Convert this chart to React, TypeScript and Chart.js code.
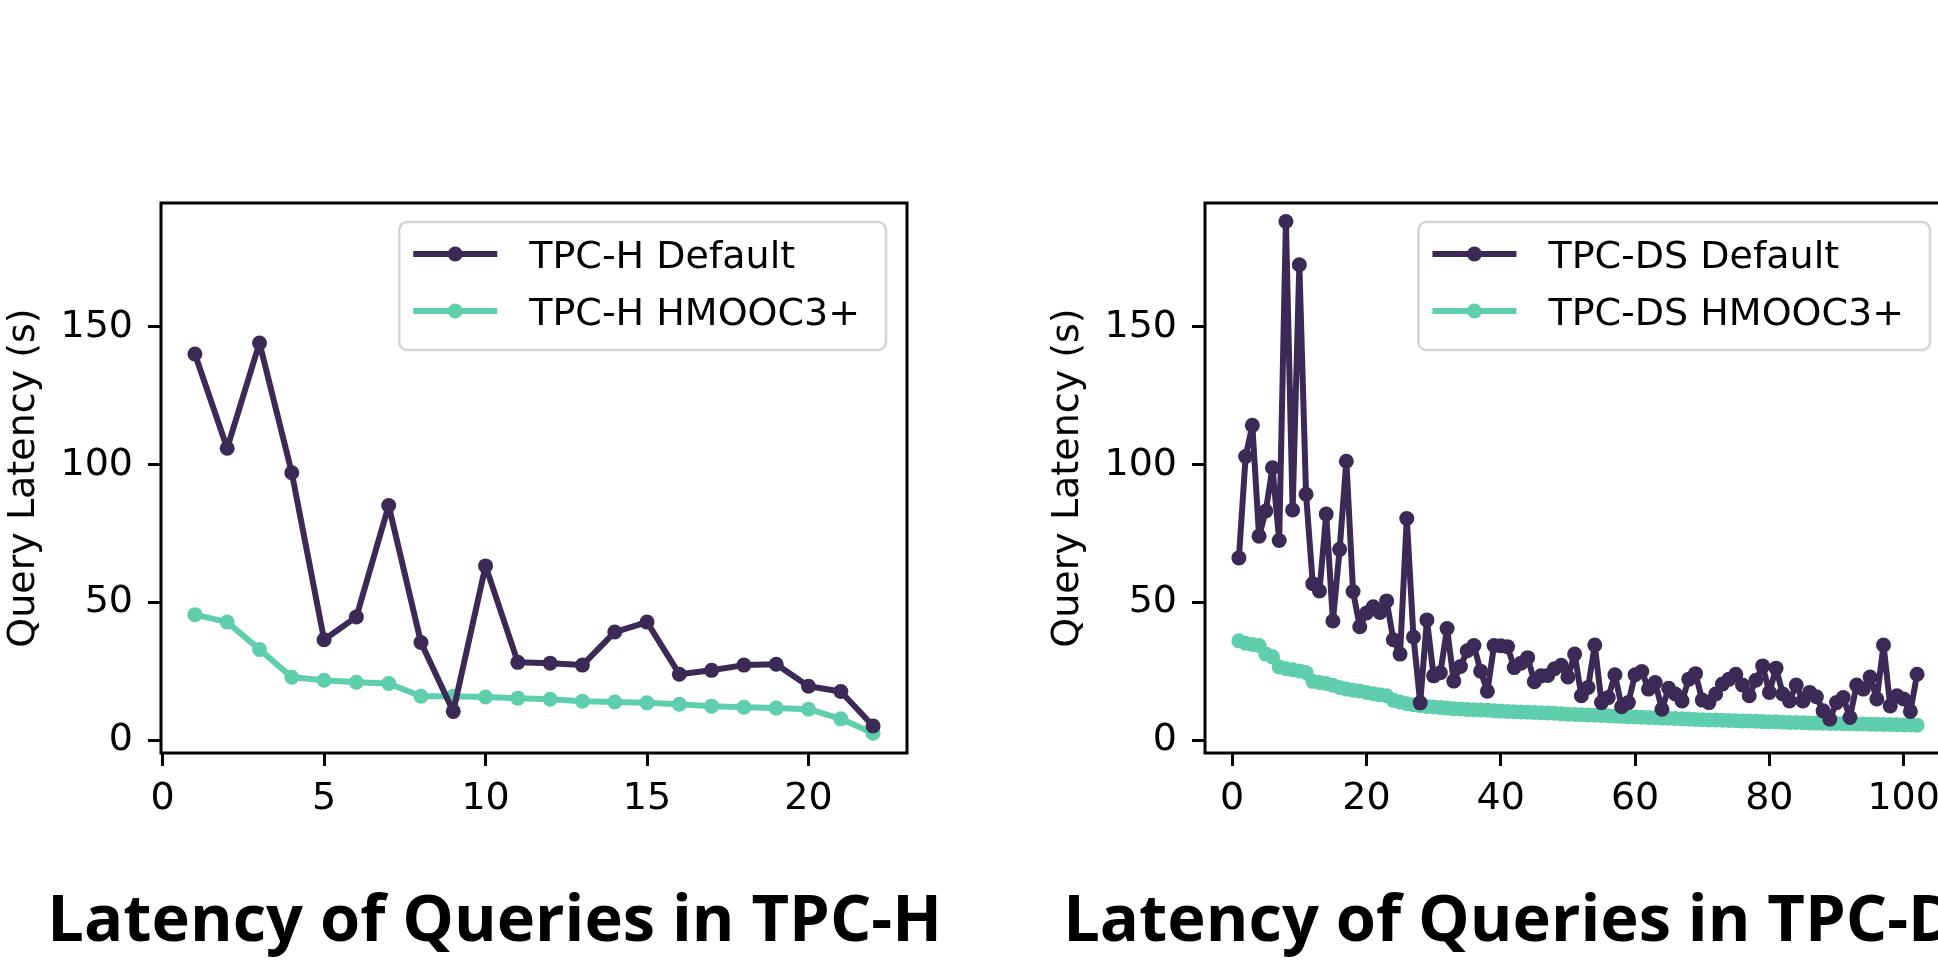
import React, { useEffect, useRef } from 'react';
import { Chart, registerables } from 'chart.js';

Chart.register(...registerables);

// ---------- data ----------
const hQueries = [1, 2, 3, 4, 5, 6, 7, 8, 9, 10, 11, 12, 13, 14, 15, 16, 17, 18, 19, 20, 21, 22];
const hDefault = [140.2, 106.0, 144.2, 97.1, 36.5, 44.8, 85.2, 35.5, 10.5, 63.3, 28.3, 28.0, 27.3, 39.3, 42.9, 24.0, 25.4, 27.3, 27.6, 19.6, 17.7, 5.2];
const hHmooc = [45.6, 42.9, 33.0, 22.9, 21.8, 21.1, 20.6, 16.0, 16.0, 15.7, 15.3, 14.9, 14.2, 13.9, 13.6, 13.1, 12.4, 12.0, 11.7, 11.3, 7.8, 2.6];

const dsQueries = [
  1, 2, 3, 4, 5, 6, 7, 8, 9, 10, 11, 12, 13, 14, 15, 16, 17, 18, 19, 20,
  21, 22, 23, 24, 25, 26, 27, 28, 29, 30, 31, 32, 33, 34, 35, 36, 37, 38, 39, 40,
  41, 42, 43, 44, 45, 46, 47, 48, 49, 50, 51, 52, 53, 54, 55, 56, 57, 58, 59, 60,
  61, 62, 63, 64, 65, 66, 67, 68, 69, 70, 71, 72, 73, 74, 75, 76, 77, 78, 79, 80,
  81, 82, 83, 84, 85, 86, 87, 88, 89, 90, 91, 92, 93, 94, 95, 96, 97, 98, 99, 100,
  101, 102,
];
const dsDefault = [
  66.2, 103.0, 114.3, 74.1, 83.2, 98.9, 72.5, 188.3, 83.6, 172.6,
  89.3, 56.8, 54.2, 82.1, 43.3, 69.3, 101.3, 54.0, 41.2, 46.2,
  48.5, 46.4, 50.6, 36.5, 31.3, 80.5, 37.5, 13.6, 43.7, 23.4,
  24.5, 40.6, 21.5, 26.8, 32.5, 34.4, 25.1, 17.8, 34.4, 34.3,
  34.0, 26.4, 28.0, 30.0, 21.3, 23.4, 23.5, 26.0, 27.2, 23.0,
  31.3, 16.2, 19.2, 34.6, 13.7, 15.5, 23.8, 12.2, 13.7, 23.8,
  25.0, 18.6, 21.0, 11.3, 18.9, 16.8, 14.3, 22.2, 24.2, 14.6,
  13.7, 16.8, 20.4, 22.2, 24.0, 20.1, 16.2, 21.8, 27.0, 17.4,
  26.2, 16.8, 14.3, 20.1, 14.3, 17.4, 15.8, 10.7, 7.7, 13.7,
  15.5, 8.3, 20.1, 18.6, 23.0, 15.0, 34.6, 12.5, 16.2, 15.0,
  10.5, 24.0,
];
const dsHmooc = [
  36.1, 35.2, 34.8, 34.4, 31.3, 30.3, 26.6, 26.0, 25.6, 25.2,
  24.6, 21.4, 21.0, 20.6, 20.0, 19.2, 18.6, 18.2, 17.9, 17.4,
  16.9, 16.5, 16.2, 14.5, 13.9, 13.3, 12.9, 12.6, 12.3, 12.1,
  11.9, 11.7, 11.5, 11.4, 11.2, 11.1, 11.0, 10.9, 10.7, 10.6,
  10.5, 10.4, 10.3, 10.2, 10.1, 10.0, 9.9, 9.8, 9.6, 9.5,
  9.4, 9.3, 9.2, 9.1, 9.0, 8.9, 8.8, 8.7, 8.6, 8.5,
  8.4, 8.3, 8.2, 8.1, 8.0, 7.9, 7.8, 7.7, 7.6, 7.5,
  7.4, 7.35, 7.3, 7.2, 7.1, 7.05, 7.0, 6.9, 6.8, 6.75,
  6.7, 6.6, 6.5, 6.45, 6.4, 6.3, 6.25, 6.2, 6.15, 6.1,
  6.05, 6.0, 5.95, 5.9, 5.85, 5.8, 5.75, 5.7, 5.65, 5.6,
  5.55, 5.5,
];

const hXTicks = [0, 5, 10, 15, 20];
const dsXTicks = [0, 20, 40, 60, 80, 100];
const yTicks = [0, 50, 100, 150];

const hXRange = [-0.05, 23.05];
const dsXRange = [-4.05, 107.05];
const yRange = [-4.6, 195];

const DARK = '#3a2a55';
const TEAL = '#5fceac';
const FONT = "'DejaVu Sans', sans-serif";

// ---------- plugins ----------
const framePlugin = {
  id: 'mplFrame',
  afterDatasetsDraw(chart: any) {
    const { ctx, chartArea: a } = chart;
    ctx.save();
    ctx.strokeStyle = '#000';
    ctx.lineWidth = 3;
    ctx.strokeRect(a.left, a.top, a.right - a.left, a.bottom - a.top);
    ctx.restore();
  },
};

const legendPlugin = {
  id: 'mplLegend',
  afterDraw(chart: any, _args: any, opts: any) {
    const items = opts && opts.items;
    if (!items) return;
    const { ctx, chartArea } = chart;
    ctx.save();
    ctx.font = `38px ${FONT}`;
    const textW = Math.max(...items.map((i: any) => ctx.measureText(i.label).width));
    const w = 130 + textW + 26;
    const h = 128;
    const right = chartArea.right - 21;
    const top = chartArea.top + 19;
    const left = right - w;
    ctx.beginPath();
    ctx.roundRect(left, top, w, h, 8);
    ctx.fillStyle = 'rgba(255,255,255,0.8)';
    ctx.fill();
    ctx.strokeStyle = '#d4d4d4';
    ctx.lineWidth = 2.5;
    ctx.stroke();
    items.forEach((it: any, i: number) => {
      const y = top + 32 + i * 57;
      ctx.strokeStyle = it.color;
      ctx.lineWidth = 6;
      ctx.beginPath();
      ctx.moveTo(left + 14, y);
      ctx.lineTo(left + 98, y);
      ctx.stroke();
      ctx.fillStyle = it.color;
      ctx.beginPath();
      ctx.arc(left + 56, y, 7.5, 0, Math.PI * 2);
      ctx.fill();
      ctx.fillStyle = '#000';
      ctx.textBaseline = 'alphabetic';
      ctx.textAlign = 'left';
      ctx.fillText(it.label, left + 130, y + 14);
    });
    ctx.restore();
  },
};

function makeConfig(
  xs: number[],
  def: number[],
  hm: number[],
  labels: string[],
  xTicks: number[],
  xRange: number[],
) {
  const ds = (vals: number[], label: string, color: string) => ({
    label,
    data: xs.map((x, i) => ({ x, y: vals[i] })),
    borderColor: color,
    backgroundColor: color,
    pointBackgroundColor: color,
    pointBorderColor: color,
    pointBorderWidth: 0,
    pointRadius: 7.5,
    borderWidth: 6,
    borderJoinStyle: 'round',
    borderCapStyle: 'round',
    tension: 0,
    fill: false,
    showLine: true,
  });
  return {
    type: 'line',
    data: {
      datasets: [ds(def, labels[0], DARK), ds(hm, labels[1], TEAL)],
    },
    options: {
      animation: false,
      responsive: false,
      devicePixelRatio: 1,
      events: [],
      layout: { padding: { top: 203, right: 53, bottom: 0, left: 0 } },
      plugins: {
        legend: { display: false },
        tooltip: { enabled: false },
        mplLegend: {
          items: [
            { label: labels[0], color: DARK },
            { label: labels[1], color: TEAL },
          ],
        },
      },
      scales: {
        x: {
          type: 'linear',
          min: xRange[0],
          max: xRange[1],
          afterBuildTicks: (s: any) => {
            s.ticks = xTicks.map((v) => ({ value: v }));
          },
          afterFit: (s: any) => {
            s.height = 211;
          },
          border: { display: false },
          grid: {
            drawOnChartArea: false,
            drawTicks: true,
            tickLength: 13,
            tickWidth: 3,
            tickColor: '#000',
            color: '#000',
          },
          ticks: {
            color: '#000',
            padding: 10,
            maxRotation: 0,
            autoSkip: false,
            font: { family: FONT, size: 38 },
            callback: (v: any) => String(v),
          },
        },
        y: {
          type: 'linear',
          min: yRange[0],
          max: yRange[1],
          afterBuildTicks: (s: any) => {
            s.ticks = yTicks.map((v) => ({ value: v }));
          },
          afterFit: (s: any) => {
            s.width = 161;
          },
          border: { display: false },
          grid: {
            drawOnChartArea: false,
            drawTicks: true,
            tickLength: 13,
            tickWidth: 3,
            tickColor: '#000',
            color: '#000',
          },
          ticks: {
            color: '#000',
            padding: 15,
            autoSkip: false,
            font: { family: FONT, size: 38 },
            callback: (v: any) => String(v),
          },
          title: {
            display: true,
            text: 'Query Latency (s)',
            color: '#000',
            padding: { top: 1, bottom: 0 },
            font: { family: FONT, size: 38 },
          },
        },
      },
    },
    plugins: [framePlugin, legendPlugin],
  };
}

// titles are right-aligned inside a box ending at `right`
const titleStyle = (right: number): React.CSSProperties => ({
  position: 'absolute',
  left: 0,
  width: right,
  textAlign: 'right',
  top: 884,
  fontFamily: "'Open Sans', Lato, sans-serif",
  fontWeight: 700,
  fontSize: 65,
  lineHeight: '65px',
  whiteSpace: 'nowrap',
  color: '#000',
});

export default function App() {
  const leftRef = useRef<HTMLCanvasElement>(null);
  const rightRef = useRef<HTMLCanvasElement>(null);

  useEffect(() => {
    const c1 = new Chart(
      leftRef.current as HTMLCanvasElement,
      makeConfig(hQueries, hDefault, hHmooc, ['TPC-H Default', 'TPC-H HMOOC3+'], hXTicks, hXRange) as any,
    );
    const c2 = new Chart(
      rightRef.current as HTMLCanvasElement,
      makeConfig(dsQueries, dsDefault, dsHmooc, ['TPC-DS Default', 'TPC-DS HMOOC3+'], dsXTicks, dsXRange) as any,
    );
    return () => {
      c1.destroy();
      c2.destroy();
    };
  }, []);

  return (
    <div
      style={{
        position: 'fixed',
        left: 0,
        top: 0,
        width: 1938,
        height: 964,
        overflow: 'hidden',
        background: '#fff',
      }}
    >
      <canvas ref={leftRef} width={960} height={964} style={{ position: 'absolute', left: 0, top: 0, width: 960, height: 964 }} />
      <canvas ref={rightRef} width={960} height={964} style={{ position: 'absolute', left: 1044, top: 0, width: 960, height: 964 }} />
      <div style={titleStyle(942)}>Latency of Queries in TPC-H</div>
      <div style={titleStyle(1992)}>Latency of Queries in TPC-DS</div>
    </div>
  );
}
